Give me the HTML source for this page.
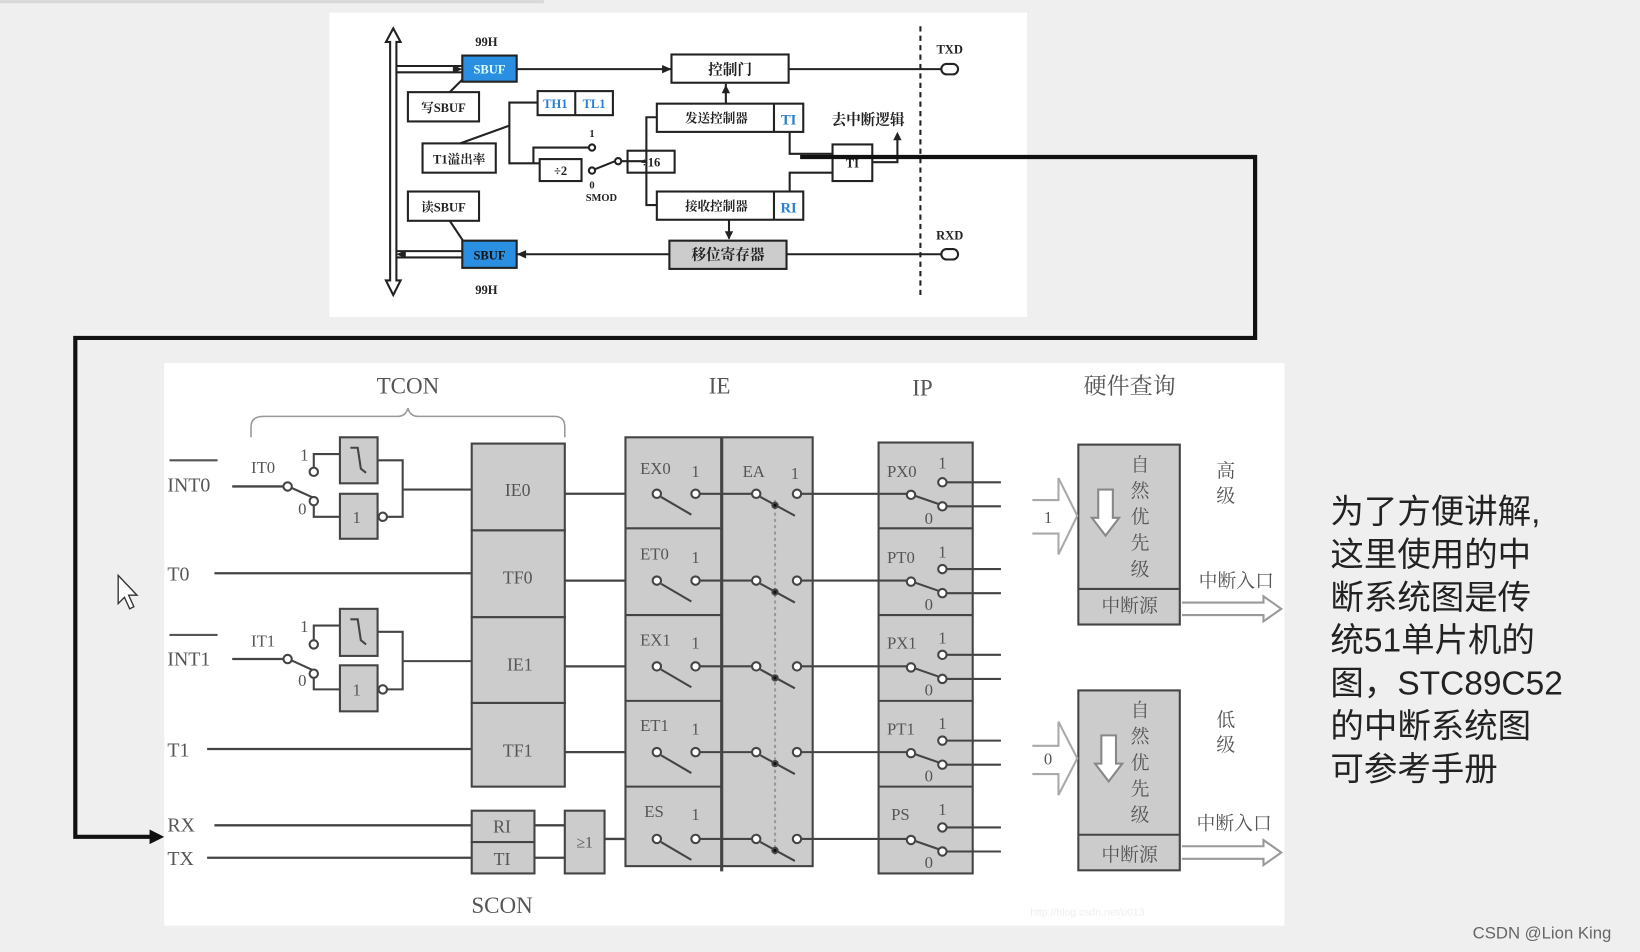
<!DOCTYPE html>
<html><head><meta charset="utf-8"><style>
html,body{margin:0;padding:0;background:#efefef;}
svg{display:block}
.s{font-family:"Liberation Serif","Noto Serif CJK SC",serif;fill:#555}
.k{font-family:"Liberation Sans","Noto Sans CJK SC",sans-serif}
</style></head><body>
<svg width="1640" height="952" viewBox="0 0 1568 910" xmlns="http://www.w3.org/2000/svg">
<rect x="0" y="0" width="1568" height="910" fill="#efefef"/>
<rect x="0" y="0" width="520" height="3" fill="#d8d8d8"/>
<rect x="315" y="12" width="667" height="291" fill="#fff"/>
<g stroke="#222" stroke-width="2" fill="none">
<path d="M369,40 L376,27 L383,40 L379,40 L379,268 L383,268 L376,282 L369,268 L373,268 L373,40 Z" fill="#fff"/>
<line x1="379" y1="63" x2="442" y2="63"/><line x1="379" y1="69" x2="442" y2="69"/>
<line x1="379" y1="240" x2="442" y2="240"/><line x1="379" y1="246" x2="442" y2="246"/>
<line x1="494" y1="66" x2="642" y2="66"/>
<line x1="754" y1="66" x2="900" y2="66"/>
<line x1="900" y1="243" x2="752" y2="243"/>
<line x1="640" y1="243" x2="494" y2="243"/>
<rect x="642" y="52" width="112" height="27" fill="#fff"/>
<rect x="628" y="99" width="140" height="27" fill="#fff"/><line x1="740" y1="99" x2="740" y2="126"/>
<rect x="628" y="183" width="140" height="27" fill="#fff"/><line x1="740" y1="183" x2="740" y2="210"/>
<rect x="640" y="230" width="112" height="27" fill="#ccc"/>
<rect x="390" y="88" width="68" height="28" fill="#fff"/>
<rect x="404" y="137" width="70" height="28" fill="#fff"/>
<rect x="390" y="183" width="68" height="28" fill="#fff"/>
<line x1="430" y1="88" x2="448" y2="70"/><line x1="430" y1="211" x2="448" y2="238"/>
<rect x="514" y="87" width="72" height="23" fill="#fff"/><line x1="550" y1="87" x2="550" y2="110"/>
<rect x="516" y="152" width="40" height="21" fill="#fff"/>
<rect x="600" y="144" width="45" height="21" fill="#fff"/>
<rect x="796" y="138" width="38" height="35" fill="#fff"/>
<path d="M514,98 H487 V156 H516"/><path d="M440,137 L487,120"/>
<path d="M510,156 V141 H563"/><circle cx="566" cy="141" r="3"/>
<circle cx="566" cy="163" r="3"/><line x1="568" y1="162" x2="588" y2="154"/><circle cx="591" cy="154" r="3"/>
<line x1="594" y1="154" x2="600" y2="154"/>
<path d="M628,112 H618 V196 H628"/><line x1="600" y1="154" x2="618" y2="154"/>
<line x1="694" y1="99" x2="694" y2="80"/><line x1="697" y1="210" x2="697" y2="228"/>
<path d="M755,126 V147 H796"/><path d="M755,183 V165 H796"/>
<path d="M834,155 H858 V128"/>
<rect x="900" y="61" width="16" height="10" rx="5" fill="#fff"/>
<rect x="900" y="238" width="16" height="10" rx="5" fill="#fff"/>
<line x1="880" y1="25" x2="880" y2="285" stroke-dasharray="5,4"/>
</g>
<g fill="#222"><path d="M642,66 l-9,-4 v8z"/><path d="M494,243 l9,-4 v8z"/><path d="M379,243 l9,-4 v8z"/><path d="M442,66 l-9,-4 v8z"/><path d="M858,126 l-4,8 h8z"/><path d="M694,81 l-4,8 h8z"/><path d="M697,229 l-4,-8 h8z"/></g>
<rect x="442" y="53" width="52" height="25" fill="#2a8fe0" stroke="#222" stroke-width="2"/>
<rect x="442" y="230" width="52" height="26" fill="#2a8fe0" stroke="#222" stroke-width="2"/>
<g class="s" style="fill:#222" font-size="12" text-anchor="middle" font-weight="bold">
<text x="465" y="44">99H</text><text x="465" y="281">99H</text>
<text x="468" y="70" style="fill:#dff">SBUF</text><text x="468" y="248" style="fill:#111">SBUF</text>
<text x="424" y="107">写SBUF</text><text x="439" y="156">T1溢出率</text><text x="424" y="202">读SBUF</text>
<text x="698" y="71" font-size="14">控制门</text><text x="685" y="117">发送控制器</text><text x="685" y="201">接收控制器</text>
<text x="696" y="248" font-size="14">移位寄存器</text>
<text x="531" y="103" style="fill:#2a7fd0">TH1</text><text x="568" y="103" style="fill:#2a7fd0">TL1</text>
<text x="754" y="119" style="fill:#2a7fd0" font-size="14">TI</text><text x="754" y="203" style="fill:#2a7fd0" font-size="14">RI</text>
<text x="536" y="167">÷2</text><text x="622" y="159">÷16</text><text x="815" y="160">TI</text>
<text x="830" y="119" font-size="14">去中断逻辑</text>
<text x="908" y="51">TXD</text><text x="908" y="229">RXD</text>
<text x="566" y="131" font-size="10">1</text><text x="566" y="180" font-size="10">0</text><text x="575" y="192" font-size="10">SMOD</text>
</g>
<path d="M765,150 H1200 V323 H72 V800 H145" stroke="#111" stroke-width="4" fill="none"/>
<path d="M157,800 l-14,-7 v14z" fill="#111"/>
<rect x="157" y="347" width="1071" height="538" fill="#fff"/>
<g class="s" font-size="22" text-anchor="middle">
<text x="390" y="376">TCON</text><text x="688" y="376">IE</text><text x="882" y="378">IP</text><text x="1080" y="376">硬件查询</text>
<text x="480" y="873">SCON</text>
</g>
<path d="M240,418 V408 Q240,398 252,398 H380 Q388,398 390,390 Q392,398 400,398 H530 Q540,398 540,408 V418" stroke="#999" stroke-width="1.5" fill="none"/>
<g stroke="#444" stroke-width="2.2" fill="none">
<line x1="222" y1="465" x2="272" y2="465"/><line x1="222" y1="630" x2="272" y2="630"/>
<line x1="205" y1="548" x2="451" y2="548"/><line x1="198" y1="716" x2="451" y2="716"/>
<line x1="205" y1="789" x2="451" y2="789"/><line x1="198" y1="820" x2="451" y2="820"/>
<line x1="511" y1="789" x2="540" y2="789"/><line x1="511" y1="820" x2="540" y2="820"/>
<line x1="540" y1="472" x2="625" y2="472"/><line x1="540" y1="555" x2="625" y2="555"/>
<line x1="540" y1="637" x2="625" y2="637"/><line x1="540" y1="719" x2="625" y2="719"/>
<line x1="578" y1="802" x2="625" y2="802"/>
</g>
<g stroke="#444" stroke-width="2" fill="#ccc">
<rect x="325" y="418" width="36" height="44"/><rect x="325" y="472" width="36" height="43"/>
<rect x="325" y="582" width="36" height="45"/><rect x="325" y="636" width="36" height="44"/>
<rect x="451" y="424" width="89" height="83"/><rect x="451" y="507" width="89" height="83"/>
<rect x="451" y="590" width="89" height="82"/><rect x="451" y="672" width="89" height="80"/>
<rect x="451" y="775" width="60" height="30"/><rect x="451" y="805" width="60" height="30"/>
<rect x="540" y="775" width="38" height="60"/>
<rect x="598" y="418" width="179" height="410"/>
<rect x="840" y="423" width="90" height="412"/>
<rect x="1031" y="425" width="97" height="172"/><rect x="1031" y="660" width="97" height="172"/>
</g>
<g stroke="#444" stroke-width="2" fill="none">
<line x1="690" y1="418" x2="690" y2="833" stroke-width="3"/>
<line x1="598" y1="505" x2="690" y2="505"/><line x1="598" y1="588" x2="690" y2="588"/><line x1="598" y1="670" x2="690" y2="670"/><line x1="598" y1="752" x2="690" y2="752"/>
<line x1="840" y1="505" x2="930" y2="505"/><line x1="840" y1="588" x2="930" y2="588"/><line x1="840" y1="670" x2="930" y2="670"/><line x1="840" y1="752" x2="930" y2="752"/>
<line x1="1031" y1="563" x2="1128" y2="563"/><line x1="1031" y1="798" x2="1128" y2="798"/>
<line x1="741" y1="478" x2="741" y2="820" stroke="#999" stroke-dasharray="3,3"/>
<path d="M300,451 V434 H325"/><path d="M300,479 V494 H325"/><path d="M361,440 H385 V494 H370"/><line x1="385" y1="468" x2="451" y2="468"/>
<path d="M300,616 V598 H325"/><path d="M300,644 V659 H325"/><path d="M361,604 H385 V659 H370"/><line x1="385" y1="632" x2="451" y2="632"/>
<path d="M335,428 L342,428 L345,448 L350,452"/><path d="M335,592 L342,592 L345,612 L350,616"/>
<line x1="278" y1="466" x2="300" y2="476"/><line x1="278" y1="631" x2="300" y2="641"/>
<g id="r0">
<line x1="665" y1="472" x2="720" y2="472"/><line x1="762" y1="472" x2="868" y2="472"/>
<line x1="632" y1="475" x2="661" y2="492"/><line x1="727" y1="475" x2="760" y2="493"/>
<line x1="875" y1="474" x2="898" y2="482"/><line x1="904" y1="461" x2="957" y2="461"/><line x1="904" y1="484" x2="957" y2="484"/>
<circle cx="628" cy="472" r="4" fill="#fff"/><circle cx="665" cy="472" r="4" fill="#fff"/><circle cx="723" cy="472" r="4" fill="#fff"/><circle cx="762" cy="472" r="4" fill="#fff"/>
<circle cx="871" cy="473" r="4" fill="#fff"/><circle cx="901" cy="461" r="4" fill="#fff"/><circle cx="901" cy="484" r="4" fill="#fff"/>
<circle cx="741" cy="483" r="2.5" fill="#111"/>
</g>
<use href="#r0" y="83"/><use href="#r0" y="165"/><use href="#r0" y="247"/><use href="#r0" y="330"/>
<circle cx="275" cy="465" r="4" fill="#fff"/><circle cx="300" cy="451" r="4" fill="#fff"/><circle cx="300" cy="479" r="4" fill="#fff"/><circle cx="366" cy="494" r="4" fill="#fff"/>
<circle cx="275" cy="630" r="4" fill="#fff"/><circle cx="300" cy="616" r="4" fill="#fff"/><circle cx="300" cy="644" r="4" fill="#fff"/><circle cx="366" cy="659" r="4" fill="#fff"/>
<path d="M987,478 H1012 V457 L1030,493 L1012,530 V510 H987" stroke="#aaa" fill="#fff"/>
<path d="M987,713 H1012 V690 L1030,725 L1012,760 V740 H987" stroke="#aaa" fill="#fff"/>
<path d="M1050,468 H1064 V495 H1070 L1057,512 L1044,495 H1050 Z" stroke="#888" fill="#fff"/>
<path d="M1053,703 H1067 V730 H1073 L1060,747 L1047,730 H1053 Z" stroke="#888" fill="#fff"/>
<path d="M1130,576 H1208 V570 L1225,582 L1208,594 V588 H1130" stroke="#999" fill="#fff"/>
<path d="M1130,809 H1208 V803 L1225,815 L1208,827 V821 H1130" stroke="#999" fill="#fff"/>
</g>
<g class="s" font-size="19">
<text x="160" y="470">INT0</text><line x1="162" y1="440" x2="208" y2="440" stroke="#555" stroke-width="2"/>
<text x="160" y="636">INT1</text><line x1="162" y1="607" x2="208" y2="607" stroke="#555" stroke-width="2"/>
<text x="160" y="555">T0</text><text x="160" y="723">T1</text><text x="160" y="795">RX</text><text x="160" y="827">TX</text>
<g font-size="16"><text x="240" y="452">IT0</text><text x="240" y="618">IT1</text>
<text x="287" y="440">1</text><text x="285" y="492">0</text><text x="287" y="604">1</text><text x="285" y="656">0</text>
<text x="337" y="500">1</text><text x="337" y="665">1</text></g>
<g font-size="17" text-anchor="middle"><text x="495" y="474">IE0</text><text x="495" y="558">TF0</text><text x="497" y="641">IE1</text><text x="495" y="723">TF1</text>
<text x="480" y="796">RI</text><text x="480" y="827">TI</text><text x="559" y="810" font-size="15">≥1</text></g>
<g font-size="16"><text x="612" y="453">EX0</text><text x="612" y="535">ET0</text><text x="612" y="617">EX1</text><text x="612" y="699">ET1</text><text x="616" y="781">ES</text>
<text x="661" y="456">1</text><text x="661" y="538">1</text><text x="661" y="620">1</text><text x="661" y="702">1</text><text x="661" y="784">1</text>
<text x="710" y="456">EA</text><text x="756" y="458">1</text>
<text x="848" y="456">PX0</text><text x="848" y="538">PT0</text><text x="848" y="620">PX1</text><text x="848" y="702">PT1</text><text x="852" y="784">PS</text>
<text x="897" y="448">1</text><text x="897" y="533">1</text><text x="897" y="615">1</text><text x="897" y="697">1</text><text x="897" y="779">1</text>
<text x="884" y="501">0</text><text x="884" y="583">0</text><text x="884" y="665">0</text><text x="884" y="747">0</text><text x="884" y="830">0</text>
<text x="998" y="500">1</text><text x="998" y="731">0</text></g>
<g font-size="18" text-anchor="middle"><text x="1090" y="450">自</text><text x="1090" y="475">然</text><text x="1090" y="500">优</text><text x="1090" y="525">先</text><text x="1090" y="550">级</text>
<text x="1090" y="685">自</text><text x="1090" y="710">然</text><text x="1090" y="735">优</text><text x="1090" y="760">先</text><text x="1090" y="785">级</text>
<text x="1080" y="585">中断源</text><text x="1080" y="823">中断源</text>
<text x="1172" y="456">高</text><text x="1172" y="480">级</text><text x="1172" y="694">低</text><text x="1172" y="718">级</text>
<text x="1182" y="561">中断入口</text><text x="1180" y="793">中断入口</text></g>
</g>
<text x="985" y="875" font-size="10" fill="#eee" class="k">http://blog.csdn.net/u013</text>
<path d="M113,550 L113,577 L119,571 L124,582 L128,580 L123,569 L131,569 Z" fill="#fff" stroke="#333" stroke-width="1.3"/>
<g class="k" font-size="32" fill="#222">
<text x="1272" y="500">为了方便讲解,</text><text x="1272" y="541">这里使用的中</text><text x="1272" y="582">断系统图是传</text><text x="1272" y="623">统51单片机的</text><text x="1272" y="664">图，STC89C52</text><text x="1272" y="705">的中断系统图</text><text x="1272" y="746">可参考手册</text>
</g>
<text x="1408" y="897" font-size="16" fill="#666" class="k">CSDN @Lion King</text>
</svg>
</body></html>
